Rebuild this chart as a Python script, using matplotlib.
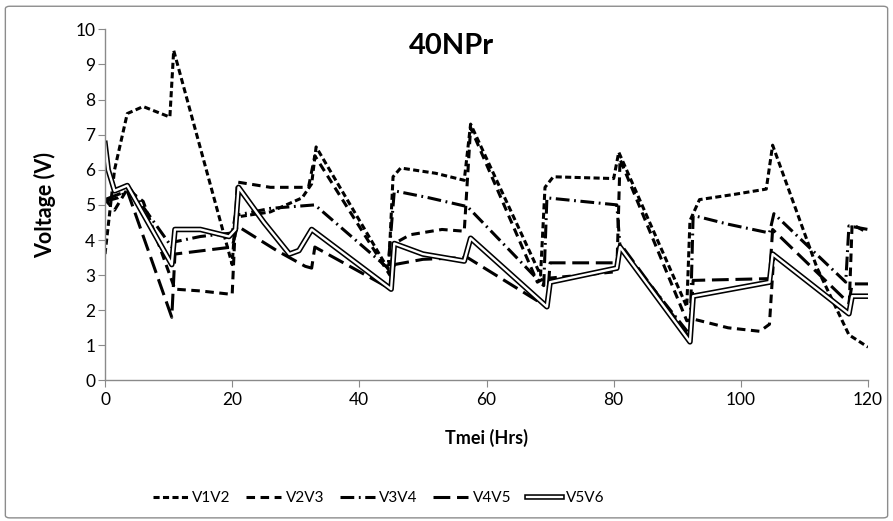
import matplotlib.pyplot as plt
from matplotlib.lines import Line2D
from matplotlib.patches import FancyBboxPatch

plt.rcParams['font.family'] = ['Lato', 'DejaVu Sans']

# time (hrs) and voltage readings for each cell pair
t_v1v2 = [0, 1.5, 3.5, 6, 10.2, 10.8, 20, 20.5, 26, 31, 32.5, 33.2, 44.6, 45.3, 46.5, 52, 56.5,
          57.5, 68.5, 69.2, 70.5, 80, 80.8, 91.5, 92.0, 93.5, 99, 104, 105, 112, 117, 120]
v1v2 = [3.6, 6.0, 7.6, 7.8, 7.5, 9.4, 3.3, 4.65, 4.8, 5.2, 5.6, 6.65, 3.15, 5.8, 6.05, 5.9, 5.7,
        7.3, 3.0, 5.5, 5.8, 5.75, 6.5, 2.1, 4.55, 5.15, 5.3, 5.45, 6.7, 3.2, 1.3, 0.95]

t_v2v3 = [0, 1.5, 3.5, 6, 11, 15, 20, 20.8, 26, 32, 33, 44.8, 45.5, 48, 53, 56.5, 57.5, 68, 69,
          75, 80.5, 81, 91.5, 92.5, 98, 103, 104.5, 105.2, 117, 117.5, 120]
v2v3 = [5.15, 4.85, 5.45, 5.1, 2.6, 2.55, 2.45, 5.65, 5.5, 5.5, 6.4, 3.0, 3.9, 4.15, 4.3, 4.25,
        7.2, 2.8, 2.9, 3.0, 3.1, 6.3, 1.7, 1.75, 1.5, 1.4, 1.6, 3.6, 1.9, 4.45, 4.2]

t_v3v4 = [0, 2, 4, 10.5, 11, 15, 20, 20.5, 26, 33, 44.5, 45.5, 51, 57, 69, 69.5, 75, 80.5, 81,
          92, 92.5, 98, 104.5, 105.2, 116.5, 117, 120]
v3v4 = [5.1, 5.2, 5.45, 3.8, 3.95, 4.1, 4.2, 4.7, 4.9, 5.0, 3.2, 5.4, 5.2, 4.95, 2.7, 5.2, 5.1,
        5.0, 3.8, 1.3, 4.7, 4.45, 4.2, 4.75, 2.8, 4.4, 4.3]

t_v4v5 = [0, 3.5, 10.5, 11, 20, 20.8, 27, 31.5, 32.5, 33, 45, 45.5, 50, 57, 69.5, 70, 80.5, 81,
          92, 92.5, 104.5, 105, 117, 117.5, 120]
v4v5 = [5.15, 5.4, 1.8, 3.6, 3.8, 4.4, 3.7, 3.25, 3.2, 3.8, 2.6, 3.3, 3.45, 3.5, 2.1, 3.35, 3.35,
        3.9, 1.2, 2.85, 2.9, 4.3, 2.2, 2.75, 2.75]

t_v5v6 = [0, 0.5, 1.5, 3.5, 10.5, 11, 15, 19.5, 20.5, 21, 25, 29, 30.5, 32.5, 45, 45.5, 50,
          56.5, 57.5, 69.5, 70, 80.5, 81, 92, 92.5, 104.5, 105, 117, 117.5, 120]
v5v6 = [6.75, 6.0, 5.4, 5.55, 3.3, 4.3, 4.3, 4.1, 4.3, 5.5, 4.5, 3.6, 3.7, 4.3, 2.6, 3.9, 3.6,
        3.4, 4.05, 2.1, 2.8, 3.2, 3.8, 1.1, 2.4, 2.8, 3.6, 1.9, 2.4, 2.4]

fig = plt.figure(figsize=(8.93, 5.21), dpi=100)
ax = fig.add_axes([0.1176, 0.2697, 0.8544, 0.6741])

lw = 2.2
ls1 = (0, (2.0, 1.1))
ls2 = (0, (2.8, 1.8))
ls3 = (0, (4.5, 1.5, 0.6, 1.5))
ls4 = (0, (5.5, 2.2))
ax.plot(t_v1v2, v1v2, color='black', lw=lw, linestyle=ls1)
ax.plot(t_v2v3, v2v3, color='black', lw=lw, linestyle=ls2)
ax.plot(t_v3v4, v3v4, color='black', lw=lw, linestyle=ls3)
ax.plot(t_v4v5, v4v5, color='black', lw=lw, linestyle=ls4)
ax.plot(t_v5v6, v5v6, color='black', lw=4.0, solid_joinstyle='round')
ax.plot(t_v5v6, v5v6, color='white', lw=1.7, solid_joinstyle='round')

ax.set_xlim(0, 120)
ax.set_ylim(0, 10)
ax.set_xticks(range(0, 121, 20))
ax.set_yticks(range(0, 11))
for s in ['top', 'right']:
    ax.spines[s].set_visible(False)
for s in ['left', 'bottom']:
    ax.spines[s].set_color('#8a8a8a')
    ax.spines[s].set_linewidth(1.0)
ax.tick_params(colors='#8a8a8a', labelcolor='black', labelsize=12.5, length=5, direction='out')
ax.tick_params(axis='y', pad=2)
ax.set_xlabel('Tmei (Hrs)', fontsize=13, fontweight='bold', labelpad=15)
ax.set_ylabel('Voltage (V)', fontsize=15.5, fontweight='bold', labelpad=14)

fig.text(0.505, 0.912, '40NPr', ha='center', va='center', fontsize=21, fontweight='bold')

handles = [
    Line2D([], [], color='black', lw=lw, linestyle=ls1),
    Line2D([], [], color='black', lw=lw, linestyle=ls2),
    Line2D([], [], color='black', lw=lw, linestyle=ls3),
    Line2D([], [], color='black', lw=lw, linestyle=ls4),
    (Line2D([], [], color='black', lw=4.0), Line2D([], [], color='white', lw=1.7)),
]
labels = ['V1V2', 'V2V3', 'V3V4', 'V4V5', 'V5V6']
fig.legend(handles, labels, loc='center', bbox_to_anchor=(0.424, 0.044), ncol=5, frameon=False,
           fontsize=11, handlelength=2.3, handletextpad=0.3, columnspacing=1.0)

border = FancyBboxPatch((0.006, 0.006), 0.988, 0.982, boxstyle='round,pad=0,rounding_size=0.005',
                        transform=fig.transFigure, fill=False, edgecolor='#8c8c8c', lw=1.0)
fig.patches.append(border)

fig.savefig('out.png', dpi=100)
